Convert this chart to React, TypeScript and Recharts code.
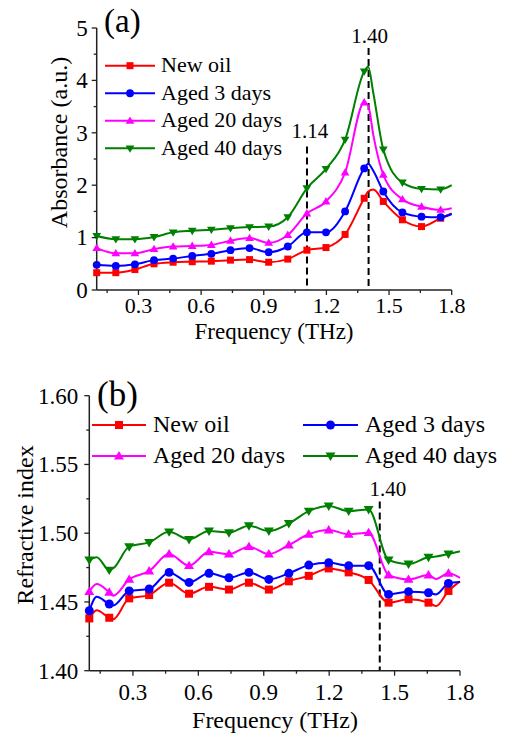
import React from "react";
import { LineChart, Line, XAxis, YAxis, ReferenceLine, Customized } from "recharts";

const FONT = "Liberation Serif, Times New Roman, DejaVu Serif, Noto Serif, serif";
const AXIS = "#222";

const seriesNames = ["New oil", "Aged 3 days", "Aged 20 days", "Aged 40 days"];
const seriesColors = ["#ff0000", "#0000ff", "#ff00ff", "#008000"];
const seriesShapes = ["square", "circle", "triangle", "triangleDown"];

// x tick labels (shared by both panels) and minor ticks
const xTickLabels = ["0.3", "0.6", "0.9", "1.2", "1.5", "1.8"];
const xMinor = [0.15, 0.45, 0.75, 1.05, 1.35, 1.65];

// ---- panel (a): absorbance ----
const freqA = [0.1, 0.1915, 0.283, 0.3745, 0.466, 0.5575, 0.649, 0.7405, 0.832, 0.9235, 1.015, 1.1065, 1.198, 1.2895, 1.381, 1.4, 1.425, 1.4725, 1.564, 1.6555, 1.747, 1.8];
const markA = [1, 1, 1, 1, 1, 1, 1, 1, 1, 1, 1, 1, 1, 1, 1, 0, 0, 1, 1, 1, 1, 0];
const newOilA = [0.33, 0.33, 0.39, 0.5, 0.53, 0.54, 0.55, 0.57, 0.58, 0.53, 0.59, 0.76, 0.81, 1.06, 1.75, 1.88, 1.92, 1.69, 1.34, 1.21, 1.37, 1.46];
const aged3A = [0.48, 0.46, 0.49, 0.57, 0.6, 0.65, 0.69, 0.76, 0.8, 0.72, 0.83, 1.1, 1.1, 1.5, 2.32, 2.41, 2.27, 1.88, 1.48, 1.4, 1.39, 1.45];
const aged20A = [0.8, 0.7, 0.7, 0.78, 0.83, 0.84, 0.86, 0.94, 0.99, 0.9, 1.05, 1.46, 1.69, 2.24, 3.58, 3.52, 2.95, 2.2, 1.73, 1.59, 1.53, 1.56];
const aged40A = [1.03, 0.97, 0.97, 1.01, 1.1, 1.13, 1.15, 1.18, 1.2, 1.21, 1.39, 1.94, 2.31, 2.87, 4.17, 4.26, 3.75, 2.68, 2.05, 1.93, 1.92, 2.0];
const yTickLabelsA = ["0", "1", "2", "3", "4", "5"];
const yMinorA = [0.5, 1.5, 2.5, 3.5, 4.5];

// ---- panel (b): refractive index ----
const freqB = [0.1, 0.134, 0.1915, 0.21, 0.283, 0.3745, 0.466, 0.5575, 0.649, 0.7405, 0.832, 0.9235, 1.015, 1.1065, 1.198, 1.2895, 1.381, 1.4725, 1.564, 1.6555, 1.69, 1.747, 1.8];
const markB = [1, 0, 1, 0, 1, 1, 1, 1, 1, 1, 1, 1, 1, 1, 1, 1, 1, 1, 1, 1, 0, 1, 0];
const newOilB = [1.438, 1.444, 1.4385, 1.4375, 1.4526, 1.455, 1.464, 1.456, 1.461, 1.459, 1.464, 1.459, 1.465, 1.469, 1.4744, 1.4715, 1.466, 1.4495, 1.452, 1.4495, 1.447, 1.458, 1.465];
const aged3B = [1.4436, 1.4538, 1.4485, 1.4475, 1.458, 1.4594, 1.4715, 1.4642, 1.4708, 1.4676, 1.4715, 1.4664, 1.4708, 1.4768, 1.4785, 1.4764, 1.4764, 1.4555, 1.4575, 1.4567, 1.4555, 1.4635, 1.4645];
const aged20B = [1.4575, 1.463, 1.457, 1.4545, 1.4664, 1.4725, 1.4848, 1.4764, 1.4865, 1.4848, 1.4902, 1.4848, 1.4914, 1.4992, 1.5023, 1.4992, 1.5004, 1.4696, 1.4664, 1.4696, 1.4667, 1.4708, 1.4675];
const aged40B = [1.4805, 1.4825, 1.4732, 1.4745, 1.4902, 1.4933, 1.501, 1.4955, 1.5016, 1.5004, 1.5055, 1.5016, 1.5071, 1.5161, 1.5198, 1.5161, 1.5173, 1.4805, 1.4776, 1.4825, 1.483, 1.4849, 1.4868];
const yTickLabelsB = ["1.40", "1.45", "1.50", "1.55", "1.60"];
const yMinorB = [1.425, 1.475, 1.525, 1.575];

const keys = ["s0", "s1", "s2", "s3"];

const rowsA = freqA.map((f, i) => ({ f, mk: markA[i] === 1, s0: newOilA[i], s1: aged3A[i], s2: aged20A[i], s3: aged40A[i] }));
const rowsB = freqB.map((f, i) => ({ f, mk: markB[i] === 1, s0: newOilB[i], s1: aged3B[i], s2: aged20B[i], s3: aged40B[i] }));

const sortNum = (a: number[]) => [...a].sort((p, q) => p - q);
const xTicks = sortNum([...xTickLabels.map(Number), ...xMinor]);
const yTicksA = sortNum([...yTickLabelsA.map(Number), ...yMinorA]);
const yTicksB = sortNum([...yTickLabelsB.map(Number), ...yMinorB]);

const txt = (fs: number) => ({ fontFamily: FONT, fontSize: fs });

function Marker({ shape, cx, cy, color, size }: any) {
  const h = size / 2;
  if (shape === "square") return <rect x={cx - h} y={cy - h} width={size} height={size} fill={color} />;
  if (shape === "circle") return <circle cx={cx} cy={cy} r={h * 1.12} fill={color} />;
  if (shape === "triangle")
    return <polygon points={`${cx},${cy - h * 1.25} ${cx - h * 1.25},${cy + h * 0.85} ${cx + h * 1.25},${cy + h * 0.85}`} fill={color} />;
  return <polygon points={`${cx},${cy + h * 1.25} ${cx - h * 1.25},${cy - h * 0.85} ${cx + h * 1.25},${cy - h * 0.85}`} fill={color} />;
}

// markers only on the measured points flagged in mark arrays
const makeDot = (shape: string, color: string, size: number) => (props: any) => {
  const { cx, cy, payload, index } = props;
  if (!payload || !payload.mk || cx == null || cy == null) return <g key={`n${index}`} />;
  return (
    <g key={`d${index}`}>
      <Marker shape={shape} cx={cx} cy={cy} color={color} size={size} />
    </g>
  );
};

const findLabel = (labels: string[], v: number) => labels.find((l) => Math.abs(parseFloat(l) - v) < 1e-6);

const XTick = (props: any) => {
  const { x, y, payload, gap, fs } = props;
  const lab = findLabel(xTickLabels, payload.value);
  return (
    <g>
      <line x1={x} x2={x} y1={y} y2={y + (lab ? 5 : 3)} stroke={AXIS} strokeWidth={1.3} />
      {lab && (
        <text x={x} y={y + gap} textAnchor="middle" style={txt(fs)} fill="#000">
          {lab}
        </text>
      )}
    </g>
  );
};

const YTick = (props: any) => {
  const { x, y, payload, labels, gap, fs } = props;
  const lab = findLabel(labels, payload.value);
  return (
    <g>
      <line x1={x} x2={x - (lab ? 5 : 3)} y1={y} y2={y} stroke={AXIS} strokeWidth={1.3} />
      {lab && (
        <text x={x - gap} y={y + fs * 0.34} textAnchor="end" style={txt(fs)} fill="#000">
          {lab}
        </text>
      )}
    </g>
  );
};

const Titles = ({ items }: any) => (
  <g>
    {items.map((t: any, i: number) => (
      <text
        key={i}
        x={t.x}
        y={t.y}
        style={txt(t.fs)}
        fill="#000"
        textAnchor={t.anchor || "middle"}
        transform={t.rot ? `rotate(-90 ${t.x} ${t.y})` : undefined}
      >
        {t.text}
      </text>
    ))}
  </g>
);

function LegendSvg({ items, fs, size }: any) {
  return (
    <g>
      {items.map((it: any, i: number) => (
        <g key={i}>
          <line x1={it.x1} x2={it.x2} y1={it.y} y2={it.y} stroke={seriesColors[i]} strokeWidth={2} />
          <Marker shape={seriesShapes[i]} cx={(it.x1 + it.x2) / 2} cy={it.y} color={seriesColors[i]} size={size} />
          <text x={it.tx} y={it.y + fs * 0.3} style={txt(fs)} fill="#000">
            {seriesNames[i]}
          </text>
        </g>
      ))}
    </g>
  );
}

const RefLabel = ({ viewBox, value, dx, dy }: any) => {
  if (!viewBox) return null;
  return (
    <text x={viewBox.x + dx} y={viewBox.y - dy} textAnchor="middle" style={txt(21)} fill="#000">
      {value}
    </text>
  );
};

const dashStyle = { stroke: "#000", strokeWidth: 2, strokeDasharray: "7 4" };

export default function App() {
  const legendA = [0, 1, 2, 3].map((i) => ({ x1: 105, x2: 155, tx: 161, y: 65.7 + i * 27.55 }));
  const legendB = [
    { x1: 92, x2: 146, tx: 153, y: 65 },
    { x1: 303, x2: 358, tx: 365, y: 65 },
    { x1: 92, x2: 146, tx: 153, y: 96 },
    { x1: 303, x2: 358, tx: 365, y: 96 },
  ];

  return (
    <div style={{ position: "absolute", left: 0, top: 0, width: 509, height: 735, background: "#fff", fontFamily: FONT }}>
      {/* panel (a) */}
      <div style={{ position: "absolute", left: 0, top: 0 }}>
        <LineChart width={509} height={360} data={rowsA} margin={{ top: 28, right: 57.3, left: 36.7, bottom: 12 }}>
          <XAxis
            dataKey="f"
            type="number"
            domain={[0.1, 1.8]}
            ticks={xTicks}
            interval={0}
            tickSize={0}
            tickMargin={0}
            tickLine={false}
            axisLine={{ stroke: AXIS, strokeWidth: 1.5 }}
            height={58}
            tick={(p: any) => <XTick {...p} gap={23} fs={22} />}
          />
          <YAxis
            type="number"
            domain={[0, 5]}
            ticks={yTicksA}
            interval={0}
            tickSize={0}
            tickMargin={0}
            tickLine={false}
            axisLine={{ stroke: AXIS, strokeWidth: 1.5 }}
            width={60}
            tick={(p: any) => <YTick {...p} labels={yTickLabelsA} gap={9} fs={23} />}
          />
          <ReferenceLine
            segment={[{ x: 1.107, y: 2.74 }, { x: 1.107, y: 0 }]}
            {...dashStyle}
            label={<RefLabel value="1.14" dx={3} dy={8} />}
          />
          <ReferenceLine
            segment={[{ x: 1.402, y: 4.62 }, { x: 1.402, y: 0 }]}
            {...dashStyle}
            label={<RefLabel value="1.40" dx={1} dy={5} />}
          />
          {keys.map((k, i) => (
            <Line
              key={k}
              type="monotone"
              dataKey={k}
              name={seriesNames[i]}
              stroke={seriesColors[i]}
              strokeWidth={2}
              dot={makeDot(seriesShapes[i], seriesColors[i], 7)}
              activeDot={false}
              isAnimationActive={false}
            />
          ))}
          <Customized
            component={() => (
              <g>
                <Titles
                  items={[
                    { text: "(a)", x: 104, y: 32, fs: 33, anchor: "start" },
                    { text: "Frequency (THz)", x: 274, y: 338.5, fs: 23 },
                    { text: "Absorbance (a.u.)", x: 67, y: 142.5, fs: 24, rot: true },
                  ]}
                />
                <LegendSvg items={legendA} fs={22} size={7} />
              </g>
            )}
          />
        </LineChart>
      </div>

      {/* panel (b) */}
      <div style={{ position: "absolute", left: 0, top: 360 }}>
        <LineChart width={509} height={375} data={rowsB} margin={{ top: 35.7, right: 49, left: 29.3, bottom: 2.3 }}>
          <XAxis
            dataKey="f"
            type="number"
            domain={[0.1, 1.8]}
            ticks={xTicks}
            interval={0}
            tickSize={0}
            tickMargin={0}
            tickLine={false}
            axisLine={{ stroke: AXIS, strokeWidth: 1.5 }}
            height={62}
            tick={(p: any) => <XTick {...p} gap={29} fs={23} />}
          />
          <YAxis
            type="number"
            domain={[1.4, 1.6]}
            ticks={yTicksB}
            interval={0}
            tickSize={0}
            tickMargin={0}
            tickLine={false}
            axisLine={{ stroke: AXIS, strokeWidth: 1.5 }}
            width={60}
            tick={(p: any) => <YTick {...p} labels={yTickLabelsB} gap={11} fs={23} />}
          />
          <ReferenceLine
            segment={[{ x: 1.432, y: 1.523 }, { x: 1.432, y: 1.4 }]}
            {...dashStyle}
            label={<RefLabel value="1.40" dx={8} dy={6} />}
          />
          {keys.map((k, i) => (
            <Line
              key={k}
              type="monotone"
              dataKey={k}
              name={seriesNames[i]}
              stroke={seriesColors[i]}
              strokeWidth={2}
              dot={makeDot(seriesShapes[i], seriesColors[i], 8)}
              activeDot={false}
              isAnimationActive={false}
            />
          ))}
          <Customized
            component={() => (
              <g>
                <Titles
                  items={[
                    { text: "(b)", x: 97, y: 46, fs: 35, anchor: "start" },
                    { text: "Frequency (THz)", x: 275, y: 368, fs: 24 },
                    { text: "Refractive index", x: 33, y: 165, fs: 24, rot: true },
                  ]}
                />
                <LegendSvg items={legendB} fs={24} size={8} />
              </g>
            )}
          />
        </LineChart>
      </div>
    </div>
  );
}
